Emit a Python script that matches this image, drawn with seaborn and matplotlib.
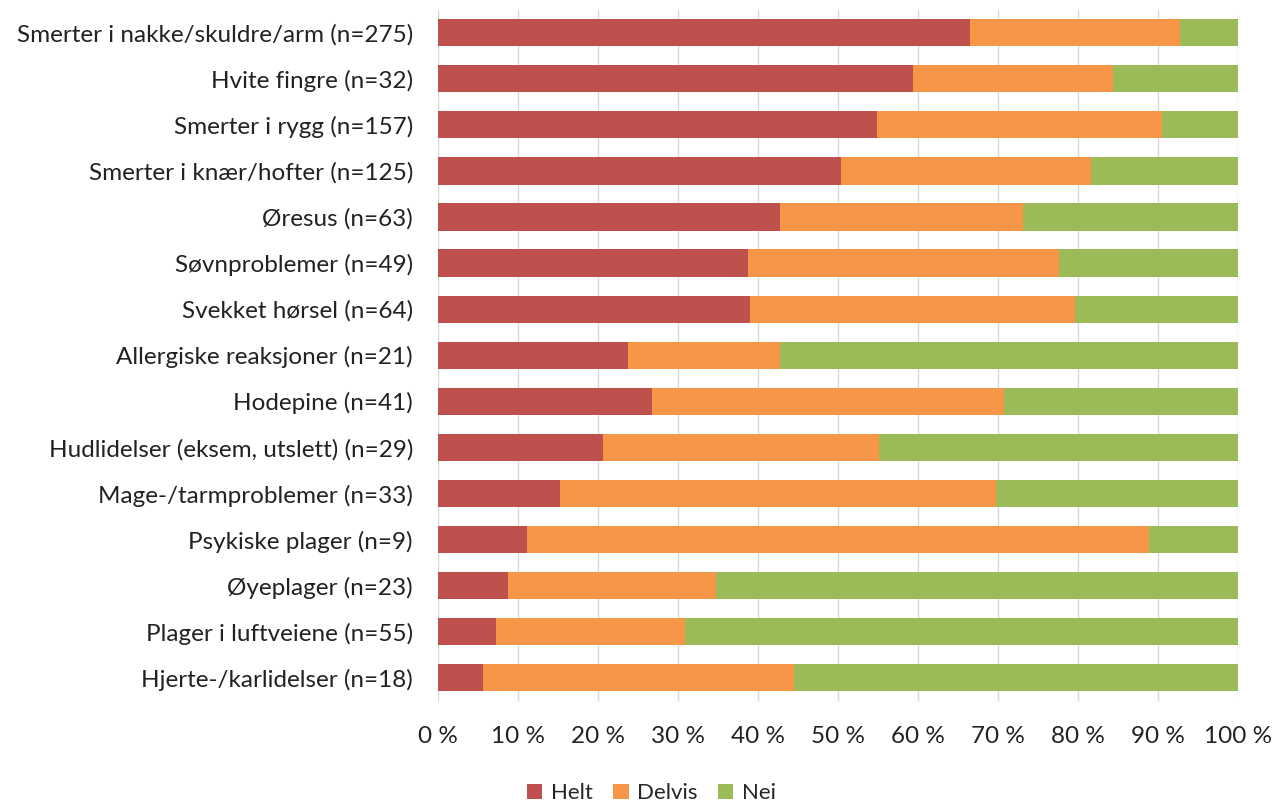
"""Plager - andel Helt / Delvis / Nei, stablet horisontal stolpe"""
import pandas as pd
import matplotlib.pyplot as plt
import seaborn as sns

# Data (prosent, lest av figuren)
categories = ['Smerter i nakke/skuldre/arm (n=275)', 'Hvite fingre (n=32)',
              'Smerter i rygg (n=157)', 'Smerter i knær/hofter (n=125)',
              'Øresus (n=63)', 'Søvnproblemer (n=49)', 'Svekket hørsel (n=64)',
              'Allergiske reaksjoner (n=21)', 'Hodepine (n=41)',
              'Hudlidelser (eksem, utslett) (n=29)', 'Mage-/tarmproblemer (n=33)',
              'Psykiske plager (n=9)', 'Øyeplager (n=23)',
              'Plager i luftveiene (n=55)', 'Hjerte-/karlidelser (n=18)']
helt = [66.5, 59.4, 54.9, 50.4, 42.8, 38.8, 39.0, 23.8, 26.8, 20.6, 15.2, 11.1, 8.7, 7.3, 5.6]
delvis = [26.3, 25.0, 35.6, 31.2, 30.3, 38.8, 40.6, 19.0, 43.9, 34.5, 54.5, 77.8, 26.1, 23.6, 38.9]
nei = [100 - h - d for h, d in zip(helt, delvis)]

df = pd.DataFrame({'Plage': categories, 'Helt': helt, 'Delvis': delvis, 'Nei': nei})
df['cum_delvis'] = df['Helt'] + df['Delvis']
df['cum_nei'] = df['cum_delvis'] + df['Nei']

COLORS = {'Helt': '#C0504D', 'Delvis': '#F79646', 'Nei': '#9BBB59'}
FS = 17.5

sns.set_style('white')
plt.rcParams['font.family'] = ['Lato', 'DejaVu Sans']

fig, ax = plt.subplots(figsize=(12.75, 8.01), dpi=100)
fig.subplots_adjust(left=0.3435, right=0.971, top=0.988, bottom=0.125)

# Stables ved å tegne kumulative verdier bakfra
for col, name in [('cum_nei', 'Nei'), ('cum_delvis', 'Delvis'), ('Helt', 'Helt')]:
    sns.barplot(df, x=col, y='Plage', color=COLORS[name], width=0.59,
                label=name, ax=ax, zorder=3, saturation=1, linewidth=0)

ax.set_xlim(0, 100)
ax.set_ylim(len(categories) - 0.5, -0.5)
ax.set_xticks(range(0, 101, 10))
ax.set_xticklabels([f'{v} %' for v in range(0, 101, 10)])
ax.xaxis.grid(True, color='#D9D9D9', linewidth=1, zorder=0)
ax.set_axisbelow(True)
for s in ax.spines.values():
    s.set_visible(False)
ax.tick_params(axis='both', length=0, labelsize=FS, colors='#222222')
ax.tick_params(axis='x', pad=18)
ax.tick_params(axis='y', pad=18)
ax.set_xlabel(None)
ax.set_ylabel(None)

handles, labels = ax.get_legend_handles_labels()
order = [labels.index(n) for n in ['Helt', 'Delvis', 'Nei']]
if ax.get_legend():
    ax.get_legend().remove()
fig.legend([handles[i] for i in order], ['Helt', 'Delvis', 'Nei'],
           loc='lower center', bbox_to_anchor=(0.511, -0.028), ncol=3,
           frameon=False, fontsize=16, handlelength=0.7, handleheight=0.7,
           handletextpad=0.4, columnspacing=0.9)

plt.savefig('out.png')
